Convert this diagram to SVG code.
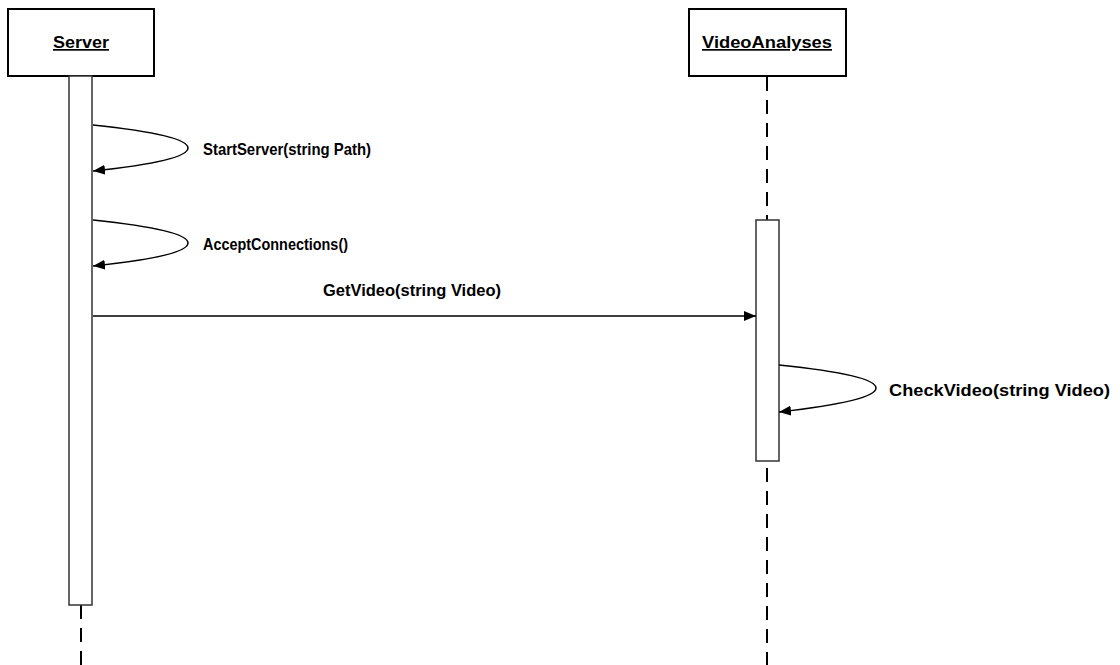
<svg xmlns="http://www.w3.org/2000/svg" width="1120" height="665" viewBox="0 0 1120 665">
<style>
.box{fill:#fff;stroke:#000;stroke-width:2}
.act{fill:#fff;stroke:#333;stroke-width:1.5}
.life{stroke:#000;stroke-width:2;stroke-dasharray:14 9;fill:none}
.msg{stroke:#000;stroke-width:1.5;fill:none;marker-end:url(#arr)}
.t{font-family:"Liberation Sans",Arial,sans-serif;font-weight:bold;font-size:17px;fill:#000}
.h{text-decoration:underline}
</style>
<defs>
<marker id="arr" viewBox="0 0 12 10" refX="12" refY="5" markerWidth="12" markerHeight="10" markerUnits="userSpaceOnUse" orient="auto">
<path d="M0,0 L12,5 L0,10 Z" fill="#000"/>
</marker>
</defs>
<rect width="1120" height="665" fill="#fff"/>
<g id="server">
<line class="life" x1="81" y1="605" x2="81" y2="665"/>
<rect class="box" x="8" y="9" width="146" height="67"/>
<text class="t h" x="81" y="48" text-anchor="middle" textLength="56" lengthAdjust="spacingAndGlyphs">Server</text>
<rect class="act" x="69" y="76" width="23" height="529"/>
</g>
<g id="videoanalyses">
<line class="life" x1="767" y1="77" x2="767" y2="665"/>
<rect class="box" x="689" y="9" width="157" height="67"/>
<text class="t h" x="767" y="48" text-anchor="middle" textLength="130" lengthAdjust="spacingAndGlyphs">VideoAnalyses</text>
<rect class="act" x="756" y="220" width="23" height="241"/>
</g>
<g id="connectors">
<path class="msg" d="M93,125 Q188,135 188,148 Q188,161 93,171"/>
<text class="t" x="203" y="155" textLength="168" lengthAdjust="spacingAndGlyphs">StartServer(string Path)</text>
<path class="msg" d="M93,220 Q188,230 188,243 Q188,256 93,266"/>
<text class="t" x="203" y="250" textLength="145" lengthAdjust="spacingAndGlyphs">AcceptConnections()</text>
<line class="msg" x1="93" y1="316" x2="756" y2="316"/>
<text class="t" x="323" y="296" textLength="178" lengthAdjust="spacingAndGlyphs">GetVideo(string Video)</text>
<path class="msg" d="M779,365 Q876,375 876,388 Q876,401 779,412"/>
<text class="t" x="889" y="396" textLength="221" lengthAdjust="spacingAndGlyphs">CheckVideo(string Video)</text>
</g>
</svg>
